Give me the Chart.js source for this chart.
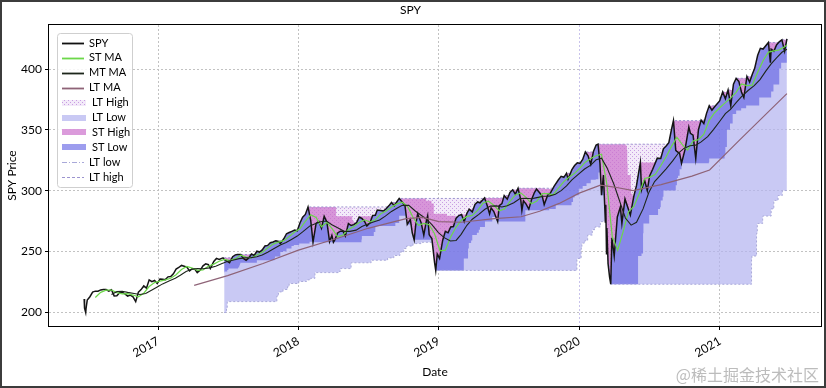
<!DOCTYPE html>
<html>
<head>
<meta charset="utf-8">
<script src="https://cdn.jsdelivr.net/npm/chart.js@4.4.1/dist/chart.umd.min.js"></script>
<style>
  html, body { margin: 0; padding: 0; background: #fff; }
  #wrap { width: 826px; height: 388px; }
</style>
</head>
<body>
<div id="wrap"><canvas id="chart" width="826" height="388"></canvas></div>
<script>
// ---- data (SPY close, moving averages, rolling bands) ----
const yearTicks = ['2017', '2018', '2019', '2020', '2021'];
const priceTicks = [200, 250, 300, 350, 400];

const spyClose = [
  ['2016-06-23', 210.8], ['2016-06-24', 203.2], ['2016-06-27', 199.6], ['2016-06-28', 203.2],
  ['2016-07-01', 209.9], ['2016-07-08', 212.6], ['2016-07-15', 216.4], ['2016-07-22', 217.2],
  ['2016-07-29', 217.1], ['2016-08-05', 218.2], ['2016-08-12', 218.5], ['2016-08-19', 218.5],
  ['2016-08-26', 217.3], ['2016-09-02', 218.4], ['2016-09-09', 213.3], ['2016-09-16', 213.4],
  ['2016-09-23', 215.9], ['2016-09-30', 216.3], ['2016-10-07', 215.0], ['2016-10-14', 213.1],
  ['2016-10-21', 214.0], ['2016-10-28', 212.5], ['2016-11-04', 208.6], ['2016-11-11', 216.4],
  ['2016-11-18', 218.5], ['2016-11-25', 221.5], ['2016-12-02', 219.7], ['2016-12-09', 226.5],
  ['2016-12-16', 225.0], ['2016-12-23', 226.0], ['2016-12-30', 223.5],
  ['2017-01-06', 227.2], ['2017-01-13', 227.0], ['2017-01-20', 226.7], ['2017-01-27', 229.0],
  ['2017-02-03', 229.3], ['2017-02-10', 231.5], ['2017-02-17', 235.4], ['2017-02-24', 236.7],
  ['2017-03-03', 238.4], ['2017-03-10', 237.7], ['2017-03-17', 237.0], ['2017-03-24', 233.9],
  ['2017-03-31', 235.7], ['2017-04-07', 235.2], ['2017-04-13', 232.5], ['2017-04-21', 234.6],
  ['2017-04-28', 238.1], ['2017-05-05', 239.7], ['2017-05-12', 239.0], ['2017-05-17', 235.8],
  ['2017-05-26', 241.7], ['2017-06-02', 244.2], ['2017-06-09', 243.4], ['2017-06-19', 244.7],
  ['2017-06-23', 243.1], ['2017-06-30', 241.8], ['2017-07-06', 240.6], ['2017-07-14', 245.6],
  ['2017-07-21', 247.1], ['2017-07-26', 247.4], ['2017-08-04', 247.4], ['2017-08-11', 244.1],
  ['2017-08-18', 242.7], ['2017-08-25', 244.6], ['2017-09-01', 247.8], ['2017-09-08', 246.6],
  ['2017-09-15', 250.1], ['2017-09-22', 249.4], ['2017-09-29', 251.2], ['2017-10-06', 254.4],
  ['2017-10-13', 254.9], ['2017-10-20', 257.1], ['2017-10-27', 257.7], ['2017-11-03', 258.7],
  ['2017-11-10', 258.1], ['2017-11-15', 256.4], ['2017-11-24', 260.4], ['2017-12-01', 264.5],
  ['2017-12-08', 265.5], ['2017-12-15', 266.5], ['2017-12-22', 267.5], ['2017-12-29', 266.9],
  ['2018-01-05', 273.4], ['2018-01-12', 278.1], ['2018-01-19', 280.4], ['2018-01-26', 286.6],
  ['2018-02-02', 275.5], ['2018-02-08', 257.6], ['2018-02-16', 273.1], ['2018-02-23', 274.7],
  ['2018-03-02', 269.1], ['2018-03-09', 278.9], ['2018-03-16', 274.2], ['2018-03-23', 258.0],
  ['2018-03-29', 263.2], ['2018-04-02', 257.5], ['2018-04-06', 259.7], ['2018-04-13', 265.2],
  ['2018-04-20', 266.6], ['2018-04-27', 266.6], ['2018-05-03', 262.6], ['2018-05-11', 272.9],
  ['2018-05-18', 271.3], ['2018-05-25', 272.0], ['2018-06-01', 273.6], ['2018-06-08', 278.2],
  ['2018-06-15', 277.1], ['2018-06-22', 274.7], ['2018-06-28', 270.9], ['2018-07-06', 273.4],
  ['2018-07-13', 279.6], ['2018-07-20', 279.7], ['2018-07-25', 284.0], ['2018-08-03', 283.6],
  ['2018-08-10', 283.2], ['2018-08-17', 285.1], ['2018-08-24', 287.5], ['2018-08-31', 290.3],
  ['2018-09-07', 287.6], ['2018-09-14', 290.9], ['2018-09-20', 293.6], ['2018-09-28', 290.7],
  ['2018-10-05', 287.8], ['2018-10-11', 272.2], ['2018-10-19', 276.3], ['2018-10-24', 265.3],
  ['2018-10-29', 259.5], ['2018-11-02', 271.9], ['2018-11-07', 281.0], ['2018-11-16', 273.7],
  ['2018-11-23', 263.3], ['2018-11-30', 275.7], ['2018-12-03', 279.3], ['2018-12-07', 263.6],
  ['2018-12-14', 260.5], ['2018-12-21', 240.7], ['2018-12-24', 234.3], ['2018-12-28', 247.8],
  ['2019-01-03', 244.2], ['2019-01-11', 259.0], ['2019-01-18', 266.5], ['2019-01-25', 265.3],
  ['2019-02-01', 270.1], ['2019-02-08', 270.5], ['2019-02-15', 277.4], ['2019-02-22', 279.5],
  ['2019-03-01', 280.4], ['2019-03-08', 274.5], ['2019-03-15', 281.3], ['2019-03-21', 284.7],
  ['2019-03-29', 282.5], ['2019-04-05', 288.6], ['2019-04-12', 290.7], ['2019-04-18', 290.0],
  ['2019-04-30', 294.0], ['2019-05-07', 287.5], ['2019-05-13', 280.9], ['2019-05-17', 285.8],
  ['2019-05-24', 282.8], ['2019-06-03', 274.6], ['2019-06-07', 287.7], ['2019-06-14', 289.3],
  ['2019-06-20', 295.9], ['2019-06-28', 293.0], ['2019-07-05', 298.5], ['2019-07-12', 300.7],
  ['2019-07-19', 297.2], ['2019-07-26', 302.0], ['2019-08-02', 292.6], ['2019-08-05', 283.8],
  ['2019-08-09', 291.6], ['2019-08-16', 288.9], ['2019-08-23', 284.8], ['2019-08-30', 292.5],
  ['2019-09-06', 298.1], ['2019-09-12', 301.3], ['2019-09-20', 298.3], ['2019-09-27', 295.4],
  ['2019-10-02', 288.5], ['2019-10-11', 296.3], ['2019-10-18', 298.0], ['2019-10-28', 303.8],
  ['2019-11-08', 309.0], ['2019-11-15', 311.8], ['2019-11-22', 311.0], ['2019-11-29', 314.3],
  ['2019-12-03', 309.5], ['2019-12-13', 317.3], ['2019-12-20', 320.7], ['2019-12-27', 322.9],
  ['2020-01-03', 322.4], ['2020-01-10', 325.7], ['2020-01-17', 331.9], ['2020-01-24', 328.8],
  ['2020-01-31', 321.7], ['2020-02-07', 332.2], ['2020-02-14', 337.6], ['2020-02-19', 338.3],
  ['2020-02-24', 322.4], ['2020-02-28', 296.3], ['2020-03-04', 312.9], ['2020-03-09', 274.2],
  ['2020-03-10', 288.4], ['2020-03-12', 248.1], ['2020-03-13', 269.3], ['2020-03-16', 239.9],
  ['2020-03-20', 228.8], ['2020-03-23', 222.9], ['2020-03-26', 261.2], ['2020-04-01', 246.2],
  ['2020-04-09', 278.2], ['2020-04-17', 286.6], ['2020-04-21', 273.0], ['2020-04-29', 293.2],
  ['2020-05-13', 280.0], ['2020-05-22', 295.4], ['2020-05-29', 304.3], ['2020-06-08', 323.2],
  ['2020-06-11', 300.6], ['2020-06-19', 308.6], ['2020-06-26', 300.1], ['2020-07-02', 312.2],
  ['2020-07-10', 317.6], ['2020-07-22', 326.8], ['2020-07-31', 326.5], ['2020-08-07', 334.6],
  ['2020-08-14', 336.8], ['2020-08-21', 339.5], ['2020-08-28', 350.6], ['2020-09-02', 357.7],
  ['2020-09-08', 333.2], ['2020-09-11', 332.4], ['2020-09-18', 330.7], ['2020-09-23', 322.6],
  ['2020-10-02', 333.8], ['2020-10-12', 352.4], ['2020-10-16', 347.3], ['2020-10-23', 345.8],
  ['2020-10-30', 326.5], ['2020-11-06', 350.2], ['2020-11-13', 358.1], ['2020-11-20', 355.3],
  ['2020-11-27', 363.7], ['2020-12-04', 369.9], ['2020-12-11', 366.3], ['2020-12-18', 369.2],
  ['2020-12-31', 373.9],
  ['2021-01-08', 381.3], ['2021-01-15', 375.7], ['2021-01-22', 382.9], ['2021-01-29', 370.1],
  ['2021-02-05', 387.7], ['2021-02-12', 392.6], ['2021-02-19', 390.0], ['2021-02-26', 381.0],
  ['2021-03-04', 376.7], ['2021-03-12', 394.1], ['2021-03-19', 389.5], ['2021-03-26', 396.0],
  ['2021-04-01', 400.6], ['2021-04-09', 411.5], ['2021-04-16', 417.3], ['2021-04-23', 416.7],
  ['2021-05-07', 422.1], ['2021-05-12', 405.4], ['2021-05-14', 416.6], ['2021-05-21', 414.9],
  ['2021-05-28', 420.0], ['2021-06-04', 422.6], ['2021-06-11', 424.3], ['2021-06-18', 414.9],
  ['2021-06-24', 425.1]
];

const stMA = [
  ['2016-07-22', 212.0], ['2016-08-05', 216.2], ['2016-08-19', 218.0], ['2016-09-02', 218.1],
  ['2016-09-16', 216.0], ['2016-09-30', 215.0], ['2016-10-14', 215.1], ['2016-10-28', 214.0],
  ['2016-11-11', 212.5], ['2016-11-25', 215.5], ['2016-12-09', 221.0], ['2016-12-23', 224.3],
  ['2017-01-06', 225.5], ['2017-01-20', 226.5], ['2017-02-03', 227.8], ['2017-02-17', 230.7],
  ['2017-03-03', 235.0], ['2017-03-17', 237.6], ['2017-03-31', 236.2], ['2017-04-14', 234.3],
  ['2017-04-28', 234.8], ['2017-05-12', 237.8], ['2017-05-26', 239.5], ['2017-06-09', 241.9],
  ['2017-06-23', 243.3], ['2017-07-07', 242.4], ['2017-07-21', 244.0], ['2017-08-04', 246.8],
  ['2017-08-18', 245.2], ['2017-09-01', 244.7], ['2017-09-15', 247.0], ['2017-09-29', 249.3],
  ['2017-10-13', 252.7], ['2017-10-27', 256.0], ['2017-11-10', 257.6], ['2017-11-24', 258.8],
  ['2017-12-08', 262.2], ['2017-12-22', 266.0], ['2018-01-05', 268.6], ['2018-01-19', 274.7],
  ['2018-02-02', 280.1], ['2018-02-16', 278.0], ['2018-03-02', 270.3], ['2018-03-16', 274.0],
  ['2018-03-30', 268.5], ['2018-04-13', 262.0], ['2018-04-27', 263.5], ['2018-05-11', 268.0],
  ['2018-05-25', 270.5], ['2018-06-08', 273.8], ['2018-06-22', 276.0], ['2018-07-06', 274.2],
  ['2018-07-20', 276.0], ['2018-08-03', 281.0], ['2018-08-17', 283.3], ['2018-08-31', 286.6],
  ['2018-09-14', 289.1], ['2018-09-28', 290.5], ['2018-10-12', 287.0], ['2018-10-26', 278.0],
  ['2018-11-09', 271.5], ['2018-11-23', 273.0], ['2018-12-07', 272.0], ['2018-12-21', 264.5],
  ['2019-01-04', 250.5], ['2019-01-18', 251.0], ['2019-02-01', 262.0], ['2019-02-15', 270.0],
  ['2019-03-01', 275.8], ['2019-03-15', 278.8], ['2019-03-29', 279.6], ['2019-04-12', 283.7],
  ['2019-04-26', 289.8], ['2019-05-10', 291.3], ['2019-05-24', 288.0], ['2019-06-07', 283.5],
  ['2019-06-21', 285.0], ['2019-07-05', 291.2], ['2019-07-19', 296.5], ['2019-08-02', 298.2],
  ['2019-08-16', 294.5], ['2019-08-30', 289.2], ['2019-09-13', 291.5], ['2019-09-27', 297.6],
  ['2019-10-11', 297.5], ['2019-10-25', 296.5], ['2019-11-08', 302.0], ['2019-11-22', 307.5],
  ['2019-12-06', 311.2], ['2019-12-20', 314.3], ['2020-01-03', 318.7], ['2020-01-17', 323.5],
  ['2020-01-31', 326.5], ['2020-02-14', 328.8], ['2020-02-28', 330.0], ['2020-03-13', 305.0],
  ['2020-03-27', 262.0], ['2020-04-10', 251.0], ['2020-04-24', 266.0], ['2020-05-08', 282.5],
  ['2020-05-22', 287.0], ['2020-06-05', 297.5], ['2020-06-19', 310.0], ['2020-07-02', 311.0],
  ['2020-07-17', 313.5], ['2020-07-31', 320.5], ['2020-08-14', 328.0], ['2020-08-28', 336.5],
  ['2020-09-11', 344.0], ['2020-09-25', 338.0], ['2020-10-09', 333.5], ['2020-10-23', 341.0],
  ['2020-11-06', 342.0], ['2020-11-20', 346.5], ['2020-12-04', 358.0], ['2020-12-18', 364.2],
  ['2021-01-01', 368.5], ['2021-01-15', 372.5], ['2021-01-29', 376.5], ['2021-02-12', 381.0],
  ['2021-02-26', 388.0], ['2021-03-12', 386.5], ['2021-03-26', 387.0], ['2021-04-09', 397.5],
  ['2021-04-23', 407.0], ['2021-05-07', 414.2], ['2021-05-21', 415.2], ['2021-06-04', 416.0],
  ['2021-06-18', 418.5], ['2021-06-24', 420.0]
];

const mtMA = [
  ['2016-09-02', 214.5], ['2016-09-16', 216.8], ['2016-09-30', 217.1], ['2016-10-14', 216.2],
  ['2016-10-31', 215.3], ['2016-11-15', 214.4], ['2016-11-30', 215.2], ['2016-12-15', 218.0],
  ['2016-12-30', 220.7], ['2017-01-13', 223.2], ['2017-01-31', 225.7], ['2017-02-15', 227.8],
  ['2017-02-28', 230.3], ['2017-03-15', 233.4], ['2017-03-31', 235.4], ['2017-04-14', 235.8],
  ['2017-04-28', 235.7], ['2017-05-15', 236.4], ['2017-05-31', 237.7], ['2017-06-15', 239.8],
  ['2017-06-30', 241.6], ['2017-07-14', 242.6], ['2017-07-31', 244.0], ['2017-08-15', 244.6],
  ['2017-08-31', 244.8], ['2017-09-15', 245.5], ['2017-09-29', 247.0], ['2017-10-13', 249.3],
  ['2017-10-31', 252.5], ['2017-11-15', 255.3], ['2017-11-30', 257.3], ['2017-12-15', 260.0],
  ['2017-12-29', 262.6], ['2018-01-12', 266.0], ['2018-01-31', 271.0], ['2018-02-15', 272.9],
  ['2018-02-28', 274.4], ['2018-03-15', 275.0], ['2018-03-29', 272.0], ['2018-04-13', 269.5],
  ['2018-04-30', 266.5], ['2018-05-15', 266.5], ['2018-05-31', 267.5], ['2018-06-15', 270.5],
  ['2018-06-29', 272.3], ['2018-07-13', 274.0], ['2018-07-31', 275.8], ['2018-08-15', 279.0],
  ['2018-08-31', 282.9], ['2018-09-14', 285.5], ['2018-09-28', 288.0], ['2018-10-15', 287.9],
  ['2018-10-31', 283.5], ['2018-11-15', 280.0], ['2018-11-30', 276.5], ['2018-12-14', 272.0],
  ['2018-12-31', 265.5], ['2019-01-15', 261.3], ['2019-01-31', 258.5], ['2019-02-15', 259.0],
  ['2019-02-28', 264.0], ['2019-03-15', 271.5], ['2019-03-29', 276.5], ['2019-04-15', 280.5],
  ['2019-04-30', 284.5], ['2019-05-15', 287.3], ['2019-05-31', 287.5], ['2019-06-14', 286.5],
  ['2019-06-28', 287.6], ['2019-07-15', 290.0], ['2019-07-31', 293.6], ['2019-08-15', 293.8],
  ['2019-08-30', 293.3], ['2019-09-13', 294.3], ['2019-09-30', 295.4], ['2019-10-15', 295.5],
  ['2019-10-31', 297.0], ['2019-11-15', 300.0], ['2019-11-29', 304.0], ['2019-12-13', 308.9],
  ['2019-12-31', 313.8], ['2020-01-15', 317.8], ['2020-01-31', 321.0], ['2020-02-14', 325.4],
  ['2020-02-28', 326.7], ['2020-03-13', 319.0], ['2020-03-31', 305.5], ['2020-04-15', 291.5],
  ['2020-04-30', 277.5], ['2020-05-15', 271.6], ['2020-05-29', 274.0], ['2020-06-15', 285.0],
  ['2020-06-30', 298.5], ['2020-07-15', 307.5], ['2020-07-31', 313.0], ['2020-08-14', 318.0],
  ['2020-08-31', 324.5], ['2020-09-15', 331.0], ['2020-09-30', 335.0], ['2020-10-15', 337.0],
  ['2020-10-30', 337.5], ['2020-11-13', 340.2], ['2020-11-30', 344.5], ['2020-12-15', 350.3],
  ['2020-12-31', 357.0], ['2021-01-15', 363.5], ['2021-01-29', 367.2], ['2021-02-12', 372.5],
  ['2021-02-26', 377.5], ['2021-03-15', 382.5], ['2021-03-31', 386.5], ['2021-04-15', 391.5],
  ['2021-04-30', 398.5], ['2021-05-14', 404.5], ['2021-05-28', 409.5], ['2021-06-11', 414.0],
  ['2021-06-24', 416.5]
];

const ltMA = [
  ['2017-04-05', 222.0], ['2017-07-01', 230.0], ['2017-10-01', 240.0], ['2018-01-01', 251.0],
  ['2018-04-15', 261.0], ['2018-07-01', 269.0], ['2018-10-08', 277.0], ['2018-11-20', 278.0],
  ['2019-01-01', 274.5], ['2019-03-01', 274.0], ['2019-05-25', 277.0], ['2019-08-03', 278.5],
  ['2019-09-20', 283.0], ['2019-11-10', 289.5], ['2020-01-01', 298.0], ['2020-02-25', 304.5],
  ['2020-04-01', 303.0], ['2020-05-20', 300.0], ['2020-08-01', 305.0], ['2020-10-20', 312.0],
  ['2020-12-05', 317.0], ['2021-02-20', 341.5], ['2021-06-24', 380.0]
];

// step levels: each value holds from its date until the next one
const ltHigh = [
  ['2017-06-22', 244.7], ['2017-07-14', 245.6], ['2017-07-21', 247.1], ['2017-07-26', 247.4],
  ['2017-09-15', 250.1], ['2017-09-29', 251.2], ['2017-10-06', 254.4], ['2017-10-13', 254.9],
  ['2017-10-20', 257.1], ['2017-10-27', 257.7], ['2017-11-03', 258.7], ['2017-11-24', 260.4],
  ['2017-12-01', 264.5], ['2017-12-08', 265.5], ['2017-12-15', 266.5], ['2017-12-22', 267.5],
  ['2018-01-05', 273.4], ['2018-01-12', 278.1], ['2018-01-19', 280.4], ['2018-01-26', 286.6],
  ['2018-08-24', 287.5], ['2018-08-31', 290.3], ['2018-09-14', 290.9], ['2018-09-20', 293.6],
  ['2019-04-30', 294.0], ['2019-06-20', 295.9], ['2019-07-05', 298.5], ['2019-07-12', 300.7],
  ['2019-07-26', 302.0], ['2019-10-28', 303.8], ['2019-11-08', 309.0], ['2019-11-15', 311.8],
  ['2019-11-29', 314.3], ['2019-12-13', 317.3], ['2019-12-20', 320.7], ['2019-12-27', 322.9],
  ['2020-01-10', 325.7], ['2020-01-17', 331.9], ['2020-02-07', 332.2], ['2020-02-14', 337.6],
  ['2020-02-19', 338.3], ['2020-08-18', 338.6], ['2020-08-21', 339.5], ['2020-08-28', 350.6],
  ['2020-09-02', 357.7], ['2020-11-13', 358.1], ['2020-11-27', 363.7], ['2020-12-04', 369.9],
  ['2020-12-31', 373.9], ['2021-01-08', 381.3], ['2021-01-22', 382.9], ['2021-02-05', 387.7],
  ['2021-02-12', 392.6], ['2021-03-12', 394.1], ['2021-03-26', 396.0], ['2021-04-01', 400.6],
  ['2021-04-09', 411.5], ['2021-04-16', 417.3], ['2021-05-07', 422.1], ['2021-06-11', 424.3],
  ['2021-06-24', 425.1]
];

const ltLow = [
  ['2017-06-22', 199.6], ['2017-06-28', 203.2], ['2017-06-30', 208.6], ['2017-11-06', 213.2],
  ['2017-11-10', 216.6], ['2017-11-22', 218.6], ['2017-12-04', 221.0], ['2017-12-08', 223.5],
  ['2018-01-02', 225.2], ['2018-01-22', 226.5], ['2018-02-01', 227.8], ['2018-02-13', 232.5],
  ['2018-04-16', 233.5], ['2018-04-20', 235.8], ['2018-05-18', 240.6], ['2018-07-09', 242.7],
  ['2018-08-21', 244.6], ['2018-09-06', 246.6], ['2018-09-22', 249.4], ['2018-10-02', 252.3],
  ['2018-10-09', 254.4], ['2018-10-26', 256.4], ['2018-11-16', 257.5], ['2018-12-17', 255.4],
  ['2018-12-19', 251.3], ['2018-12-20', 247.2], ['2018-12-21', 240.7], ['2018-12-24', 234.3],
  ['2019-12-26', 244.2], ['2020-01-06', 252.4], ['2020-01-08', 256.8], ['2020-01-16', 259.0],
  ['2020-01-23', 263.4], ['2020-02-04', 267.9], ['2020-02-11', 270.1], ['2020-02-25', 274.5],
  ['2020-03-09', 274.2], ['2020-03-12', 248.1], ['2020-03-16', 239.9], ['2020-03-20', 228.8],
  ['2020-03-23', 222.9], ['2021-03-24', 243.2], ['2021-03-25', 246.2], ['2021-04-06', 264.9],
  ['2021-04-08', 273.0], ['2021-04-22', 279.1], ['2021-05-14', 285.0], ['2021-05-21', 292.0],
  ['2021-06-01', 296.0], ['2021-06-12', 300.1], ['2021-06-24', 300.1]
];

const stHigh = [
  ['2017-06-22', 244.7], ['2017-07-14', 245.6], ['2017-07-21', 247.1], ['2017-07-26', 247.4],
  ['2017-09-15', 250.1], ['2017-09-29', 251.2], ['2017-10-06', 254.4], ['2017-10-13', 254.9],
  ['2017-10-20', 257.1], ['2017-10-27', 257.7], ['2017-11-03', 258.7], ['2017-11-24', 260.4],
  ['2017-12-01', 264.5], ['2017-12-08', 265.5], ['2017-12-15', 266.5], ['2017-12-22', 267.5],
  ['2018-01-05', 273.4], ['2018-01-12', 278.1], ['2018-01-19', 280.4], ['2018-01-26', 286.6],
  ['2018-04-09', 278.9], ['2018-05-21', 275.3], ['2018-05-25', 273.4], ['2018-06-08', 278.2],
  ['2018-06-12', 279.0], ['2018-07-20', 279.7], ['2018-07-25', 284.0], ['2018-08-24', 287.5],
  ['2018-08-31', 290.3], ['2018-09-14', 290.9], ['2018-09-20', 293.6], ['2018-11-29', 291.7],
  ['2018-12-13', 289.4], ['2018-12-19', 281.0], ['2019-01-22', 279.3], ['2019-02-14', 277.4],
  ['2019-02-22', 279.5], ['2019-03-01', 280.4], ['2019-03-15', 281.3], ['2019-03-21', 284.7],
  ['2019-04-05', 288.6], ['2019-04-12', 290.7], ['2019-04-30', 294.0], ['2019-06-20', 295.9],
  ['2019-07-05', 298.5], ['2019-07-12', 300.7], ['2019-07-26', 302.0], ['2019-10-04', 301.3],
  ['2019-10-28', 303.8], ['2019-11-08', 309.0], ['2019-11-15', 311.8], ['2019-11-29', 314.3],
  ['2019-12-13', 317.3], ['2019-12-20', 320.7], ['2019-12-27', 322.9], ['2020-01-10', 325.7],
  ['2020-01-17', 331.9], ['2020-02-07', 332.2], ['2020-02-14', 337.6], ['2020-02-19', 338.3],
  ['2020-05-01', 337.0], ['2020-05-04', 333.5], ['2020-05-05', 322.4], ['2020-05-06', 312.9],
  ['2020-05-14', 302.5], ['2020-05-15', 297.5], ['2020-05-19', 295.0], ['2020-05-26', 299.1],
  ['2020-05-29', 304.3], ['2020-06-05', 319.3], ['2020-06-08', 323.2], ['2020-07-22', 326.8],
  ['2020-08-07', 334.6], ['2020-08-14', 336.8], ['2020-08-21', 339.5], ['2020-08-28', 350.6],
  ['2020-09-02', 357.7], ['2020-11-13', 358.1], ['2020-11-27', 363.7], ['2020-12-04', 369.9],
  ['2020-12-31', 373.9], ['2021-01-08', 381.3], ['2021-01-22', 382.9], ['2021-02-05', 387.7],
  ['2021-02-12', 392.6], ['2021-03-12', 394.1], ['2021-03-26', 396.0], ['2021-04-01', 400.6],
  ['2021-04-09', 411.5], ['2021-04-16', 417.3], ['2021-05-07', 422.1], ['2021-06-11', 424.3],
  ['2021-06-24', 425.1]
];

const stLow = [
  ['2017-06-22', 232.5], ['2017-06-23', 233.5], ['2017-06-30', 234.6], ['2017-07-03', 235.8],
  ['2017-07-28', 236.8], ['2017-07-31', 238.3], ['2017-08-02', 239.5], ['2017-08-03', 240.6],
  ['2017-09-15', 242.7], ['2017-10-31', 244.6], ['2017-11-01', 245.7], ['2017-11-15', 249.4],
  ['2017-11-22', 250.1], ['2017-12-01', 252.3], ['2017-12-14', 254.4], ['2017-12-20', 255.3],
  ['2018-01-03', 256.4], ['2018-01-30', 257.9], ['2018-02-08', 257.6], ['2018-04-02', 257.5],
  ['2018-06-14', 259.7], ['2018-06-15', 262.6], ['2018-07-16', 266.0], ['2018-07-20', 270.9],
  ['2018-09-10', 273.4], ['2018-09-20', 279.3], ['2018-10-10', 278.3], ['2018-10-11', 272.2],
  ['2018-10-24', 265.3], ['2018-10-29', 259.5], ['2018-12-17', 255.4], ['2018-12-19', 251.3],
  ['2018-12-20', 247.2], ['2018-12-21', 240.7], ['2018-12-24', 234.3], ['2019-03-07', 244.2],
  ['2019-03-18', 252.4], ['2019-03-20', 256.8], ['2019-03-26', 259.0], ['2019-03-29', 263.4],
  ['2019-04-10', 265.3], ['2019-04-15', 267.9], ['2019-04-18', 270.1], ['2019-05-01', 274.5],
  ['2019-05-20', 278.3], ['2019-05-31', 275.3], ['2019-06-03', 274.6], ['2019-08-14', 283.8],
  ['2019-10-15', 284.8], ['2019-11-01', 288.0], ['2019-12-12', 290.7], ['2019-12-16', 294.4],
  ['2019-12-20', 296.3], ['2019-12-31', 301.6], ['2020-01-10', 303.8], ['2020-01-20', 306.1],
  ['2020-01-31', 309.0], ['2020-02-13', 309.5], ['2020-02-20', 314.9], ['2020-02-25', 312.6],
  ['2020-02-27', 297.5], ['2020-02-28', 296.3], ['2020-03-09', 274.2], ['2020-03-12', 248.1],
  ['2020-03-16', 239.9], ['2020-03-20', 228.8], ['2020-03-23', 222.9], ['2020-06-02', 246.2],
  ['2020-06-11', 248.2], ['2020-06-15', 264.9], ['2020-06-16', 273.0], ['2020-07-01', 280.0],
  ['2020-07-24', 285.0], ['2020-07-29', 286.3], ['2020-07-31', 292.0], ['2020-08-05', 294.9],
  ['2020-08-07', 300.1], ['2020-09-08', 304.5], ['2020-09-11', 310.5], ['2020-09-14', 312.2],
  ['2020-09-18', 317.6], ['2020-09-23', 322.6], ['2020-12-03', 323.5], ['2020-12-04', 326.5],
  ['2021-01-13', 330.2], ['2021-01-15', 336.0], ['2021-01-19', 350.2], ['2021-01-27', 355.3],
  ['2021-02-03', 363.2], ['2021-02-12', 366.0], ['2021-02-25', 367.9], ['2021-03-10', 370.1],
  ['2021-04-13', 376.7], ['2021-05-14', 381.7], ['2021-05-20', 387.5], ['2021-06-04', 400.6],
  ['2021-06-09', 405.4], ['2021-06-24', 405.4]
];

// ---- helpers ----
const day = s => Date.UTC(+s.slice(0, 4), +s.slice(5, 7) - 1, +s.slice(8, 10)) / 86400000;
const pts = rows => rows.map(([d, v]) => ({x: day(d), y: v}));

const green = '#6cd84a';
const mtColor = '#1d261b';
const ltMaColor = '#8e6377';
const ltLowFill = 'rgba(180,180,240,0.72)';
const stLowFill = 'rgba(92,92,226,0.6)';
const stHighFill = 'rgba(204,112,204,0.7)';
const ltLowLine = '#a9a9d9';
const ltHighLine = '#9c94cf';

function dotPattern() {
    const c = document.createElement('canvas');
    c.width = 4; c.height = 4;
    const g = c.getContext('2d');
    g.fillStyle = 'rgba(232,214,244,0.5)';
    g.fillRect(0, 0, 4, 4);
    g.fillStyle = 'rgba(196,150,224,0.9)';
    g.fillRect(0, 0, 1, 1);
    g.fillRect(2, 2, 1, 1);
    return document.getElementById('chart').getContext('2d').createPattern(c, 'repeat');
}
const ltHighFill = dotPattern();

const legendItems = [
    {label: 'SPY', kind: 'line', color: '#111', width: 1.8},
    {label: 'ST MA', kind: 'line', color: green, width: 1.8},
    {label: 'MT MA', kind: 'line', color: mtColor, width: 1.8},
    {label: 'LT MA', kind: 'line', color: ltMaColor, width: 1.8},
    {label: 'LT High', kind: 'patch', fill: ltHighFill},
    {label: 'LT Low', kind: 'patch', fill: ltLowFill},
    {label: 'ST High', kind: 'patch', fill: stHighFill},
    {label: 'ST Low', kind: 'patch', fill: stLowFill},
    {label: 'LT low', kind: 'line', color: ltLowLine, width: 1, dash: [5, 2, 1, 2]},
    {label: 'LT high', kind: 'line', color: ltHighLine, width: 1, dash: [3, 2]}
];

const decorPlugin = {
    id: 'decor',
    afterDraw(chart) {
        const {ctx, chartArea: a} = chart;
        ctx.save();
        // axes frame
        ctx.strokeStyle = '#000';
        ctx.lineWidth = 1;
        ctx.strokeRect(a.left - 0.5, a.top - 0.5, a.right - a.left + 1, a.bottom - a.top + 1);

        // legend
        const lx = a.left + 8, ly = a.top + 8;
        ctx.beginPath();
        ctx.roundRect(lx + 0.5, ly + 0.5, 75, 154, 3);
        ctx.fillStyle = 'rgba(255,255,255,0.85)';
        ctx.fill();
        ctx.strokeStyle = '#cfcfcf';
        ctx.stroke();
        ctx.font = '11px Lato, "DejaVu Sans", sans-serif';
        ctx.textBaseline = 'middle';
        legendItems.forEach((it, i) => {
            const y = ly + 10 + i * 14.9;
            const x0 = lx + 5;
            if (it.kind === 'line') {
                ctx.save();
                ctx.strokeStyle = it.color;
                ctx.lineWidth = it.width;
                ctx.setLineDash(it.dash || []);
                ctx.beginPath();
                ctx.moveTo(x0, Math.round(y) + 0.5);
                ctx.lineTo(x0 + 22, Math.round(y) + 0.5);
                ctx.stroke();
                ctx.restore();
                ctx.fillStyle = '#000';
                ctx.fillText(it.label, x0 + 27, y);
            } else {
                ctx.fillStyle = it.fill;
                ctx.fillRect(x0, Math.round(y) - 3, 24, 6);
                ctx.fillStyle = '#000';
                ctx.fillText(it.label, x0 + 30, y);
            }
        });

        // watermark
        ctx.font = '16px "Noto Sans CJK SC", sans-serif';
        ctx.fillStyle = 'rgba(165,165,165,0.75)';
        ctx.textAlign = 'right';
        ctx.fillText('@稀土掘金技术社区', 819, 375);

        // figure border
        ctx.strokeStyle = '#3c3c3c';
        ctx.lineWidth = 2;
        ctx.strokeRect(1, 1, 824, 386);
        ctx.restore();
    }
};

const stepStyle = {stepped: true, pointRadius: 0, tension: 0};

new Chart(document.getElementById('chart'), {
    type: 'line',
    data: {
        datasets: [
            {label: 'SPY', data: pts(spyClose), borderColor: '#141414', borderWidth: 1.5,
                pointRadius: 0, fill: false, order: 4},
            {label: 'ST MA', data: pts(stMA), borderColor: green, borderWidth: 1.2,
                pointRadius: 0, fill: false, order: 3},
            {label: 'MT MA', data: pts(mtMA), borderColor: mtColor, borderWidth: 1.1,
                pointRadius: 0, fill: false, order: 2},
            {label: 'LT MA', data: pts(ltMA), borderColor: ltMaColor, borderWidth: 1.2,
                pointRadius: 0, fill: false, order: 1},
            {label: 'ST High', data: pts(stHigh), ...stepStyle, borderWidth: 0, borderColor: 'rgba(0,0,0,0)',
                fill: {target: 0, above: stHighFill, below: 'rgba(0,0,0,0)'}, order: 5},
            {label: 'ST Low', data: pts(stLow), ...stepStyle, borderWidth: 0, borderColor: 'rgba(0,0,0,0)',
                fill: {target: 0, above: 'rgba(0,0,0,0)', below: stLowFill}, order: 6},
            {label: 'LT High', data: pts(ltHigh), ...stepStyle, borderWidth: 1, borderColor: ltHighLine,
                borderDash: [2, 2], fill: {target: 0, above: ltHighFill, below: 'rgba(0,0,0,0)'}, order: 7},
            {label: 'LT Low', data: pts(ltLow), ...stepStyle, borderWidth: 1, borderColor: ltLowLine,
                borderDash: [2, 2], fill: {target: 0, above: 'rgba(0,0,0,0)', below: ltLowFill}, order: 8}
        ]
    },
    options: {
        responsive: false,
        devicePixelRatio: 1,
        animation: false,
        events: [],
        layout: {padding: {left: 0, right: 5, top: 0, bottom: 0}},
        font: {family: 'Lato, "DejaVu Sans", sans-serif'},
        plugins: {
            legend: {display: false},
            tooltip: {enabled: false},
            filler: {drawTime: 'beforeDatasetsDraw'},
            title: {
                display: true, text: 'SPY', color: '#000',
                font: {size: 12, weight: 'normal', family: 'Lato, "DejaVu Sans", sans-serif'},
                padding: {top: 3, bottom: 7.6}
            }
        },
        scales: {
            x: {
                type: 'linear',
                min: 16883.6,
                max: 18890.6,
                afterBuildTicks: scale => { scale.ticks = yearTicks.map(y => ({value: day(y + '-01-01')})); },
                afterFit: scale => { scale.height = 62; },
                ticks: {
                    callback: (v, i) => yearTicks[i],
                    minRotation: 30, maxRotation: 30, padding: 4, color: '#000',
                    font: {size: 12, family: 'Lato, "DejaVu Sans", sans-serif'}
                },
                grid: {
                    color: c => (c.tick && c.tick.value === day('2020-01-01')) ? '#c9c3ec' : '#c2c2c2',
                    lineWidth: 1, tickLength: 4, tickColor: '#000', tickBorderDash: []
                },
                border: {display: false, dash: [2, 2]},
                title: {
                    display: true, text: 'Date', color: '#000',
                    font: {size: 12, family: 'Lato, "DejaVu Sans", sans-serif'},
                    padding: {top: 0, bottom: 9}
                }
            },
            y: {
                type: 'linear',
                min: 188.5,
                max: 436.5,
                afterBuildTicks: scale => { scale.ticks = priceTicks.map(v => ({value: v})); },
                afterFit: scale => { scale.width = 49; },
                ticks: {
                    callback: v => String(v), padding: 3, color: '#000',
                    font: {size: 12, family: 'Lato, "DejaVu Sans", sans-serif'}
                },
                grid: {color: '#c2c2c2', lineWidth: 1, tickLength: 4, tickColor: '#000', tickBorderDash: []},
                border: {display: false, dash: [2, 2]},
                title: {
                    display: true, text: 'SPY Price', color: '#000',
                    font: {size: 12, family: 'Lato, "DejaVu Sans", sans-serif'},
                    padding: {top: 5, bottom: 0}
                }
            }
        }
    },
    plugins: [decorPlugin]
});
</script>
</body>
</html>
